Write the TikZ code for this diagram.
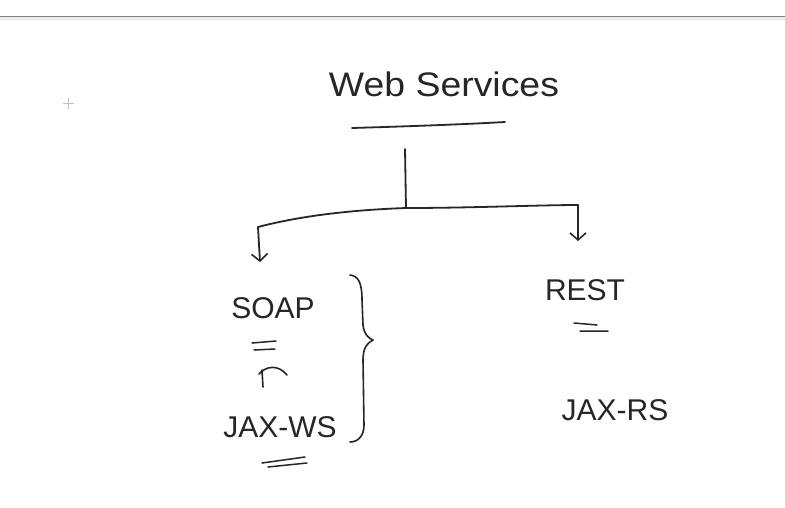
\documentclass[tikz,border=0pt]{standalone}
\usepackage{fontspec}
\setmainfont{Liberation Sans}
\usetikzlibrary{arrows.meta}
\begin{document}
\begin{tikzpicture}[x=1pt,y=-1pt,
  ink/.style={draw=black!85,line width=1.8pt,line cap=round,line join=round},
  hand/.style={text=black!85,font=\fontsize{30}{34}\selectfont,inner sep=0pt},
  barb/.style={-{Straight Barb[length=7pt,width=16pt,line width=1.6pt]}}]
  \useasboundingbox (0,0) rectangle (785,507);
  \fill[white] (0,0) rectangle (785,507);
  % top rule of the page
  \fill[black!8] (0,17) rectangle (785,20);
  \draw[black!50,line width=1.5pt] (0,16.5) -- (785,16.5);
  % small cursor cross
  \draw[black!25,line width=0.8pt] (63,103) -- (74,103) (68.5,97.5) -- (68.5,108.5);

  % title
  \node[hand,font=\fontsize{34}{38}\selectfont,xscale=1.1] (title) at (444,84) {Web Services};
  \coordinate (ulA) at (352,128);
  \coordinate (ulB) at (505,122);
  \draw[ink] (ulA) .. controls (420,126) and (470,124) .. (ulB);

  % tree connectors
  \coordinate (stemTop) at (405,149);
  \coordinate (fork) at (406,208);
  \coordinate (leftCorner) at (258,227);
  \coordinate (rightCorner) at (578,205);
  \coordinate (leftTip) at (260,262);
  \coordinate (rightTip) at (578,241);
  \draw[ink] (stemTop) -- (fork);
  \draw[ink] (fork) .. controls (350,210) and (300,216) .. (leftCorner);
  \draw[ink] (fork) .. controls (470,208) and (540,205) .. (rightCorner);
  \draw[ink,barb] (leftCorner) -- (leftTip);
  \draw[ink,barb] (rightCorner) -- (rightTip);

  % left branch
  \node[hand] (soap) at (273,308) {SOAP};
  \draw[ink,line width=1.5pt] (252,343) -- (276,341) (254,350) -- (275,349);
  \draw[ink,line width=1.6pt] (263,387) -- (262,370) (259,374) .. controls (266,366) and (278,364) .. (287,375);
  \node[hand] (jaxws) at (280,427) {JAX-WS};
  \draw[ink,line width=1.5pt] (262,463) -- (305,457) (268,467) -- (307,463);

  % grouping brace
  \coordinate (braceTop) at (350,275);
  \coordinate (braceTip) at (373,340);
  \coordinate (braceBot) at (350,442);
  \draw[ink,line width=1.6pt] (braceTop) .. controls (358,276) and (362,282) .. (362,300)
     -- (363,325) .. controls (364,334) and (368,338) .. (braceTip)
     .. controls (367,343) and (363,348) .. (363,360)
     -- (364,425) .. controls (364,436) and (358,442) .. (braceBot);

  % right branch
  \node[hand] (rest) at (585,290) {REST};
  \draw[ink,line width=1.5pt] (574,323) -- (597,325) (580,331) -- (608,331);
  \node[hand] (jaxrs) at (615,410) {JAX-RS};
\end{tikzpicture}
\end{document}
